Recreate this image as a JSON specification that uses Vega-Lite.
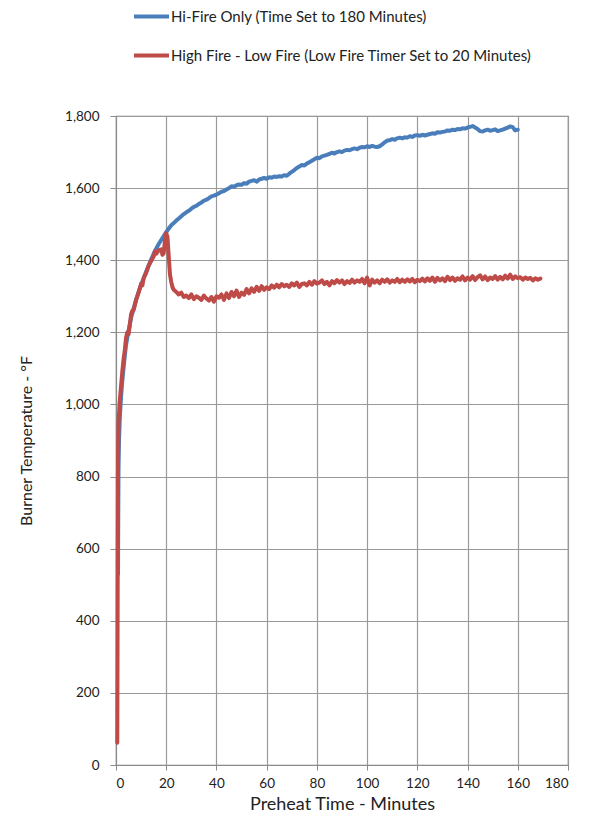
{
  "$schema": "https://vega.github.io/schema/vega-lite/v6.json",
  "autosize": {"type": "none"},
  "padding": {"left": 116, "top": 116, "right": 24, "bottom": 57},
  "width": 452,
  "height": 649,
  "background": "white",
  "config": {
    "font": "Lato",
    "view": {"stroke": "#7f7f7f", "strokeWidth": 1.2}
  },
  "datasets": {
    "pts": [
      {"s":"hi","t":0.8,"y":530},{"s":"hi","t":0.9,"y":700},{"s":"hi","t":1.0,"y":820},{"s":"hi","t":1.2,"y":900},{"s":"hi","t":1.5,"y":960},{"s":"hi","t":2,"y":1020},{"s":"hi","t":2.5,"y":1065},{"s":"hi","t":3,"y":1100},{"s":"hi","t":3.5,"y":1135},{"s":"hi","t":4,"y":1165},{"s":"hi","t":5,"y":1205},{"s":"hi","t":6,"y":1240},{"s":"hi","t":7,"y":1265},{"s":"hi","t":8,"y":1290},{"s":"hi","t":9,"y":1312},{"s":"hi","t":10,"y":1332},{"s":"hi","t":11,"y":1350},{"s":"hi","t":12,"y":1368},{"s":"hi","t":13,"y":1385},{"s":"hi","t":14,"y":1402},{"s":"hi","t":15,"y":1418},{"s":"hi","t":16,"y":1432},{"s":"hi","t":17,"y":1445},{"s":"hi","t":18,"y":1456},{"s":"hi","t":19,"y":1467},{"s":"hi","t":20,"y":1478},{"s":"hi","t":21,"y":1488},{"s":"hi","t":22,"y":1497},{"s":"hi","t":23,"y":1503},{"s":"hi","t":24,"y":1510},{"s":"hi","t":25,"y":1516},{"s":"hi","t":26,"y":1522},{"s":"hi","t":27,"y":1528},{"s":"hi","t":28,"y":1533},{"s":"hi","t":29,"y":1537},{"s":"hi","t":30,"y":1543},{"s":"hi","t":31,"y":1548},{"s":"hi","t":32,"y":1551},{"s":"hi","t":33,"y":1556},{"s":"hi","t":34,"y":1560},{"s":"hi","t":35,"y":1565},{"s":"hi","t":36,"y":1568},{"s":"hi","t":37,"y":1572},{"s":"hi","t":38,"y":1577},{"s":"hi","t":39,"y":1579},{"s":"hi","t":40,"y":1582},{"s":"hi","t":41,"y":1586},{"s":"hi","t":42,"y":1590},{"s":"hi","t":43,"y":1592},{"s":"hi","t":44,"y":1596},{"s":"hi","t":45,"y":1600},{"s":"hi","t":46,"y":1605},{"s":"hi","t":47,"y":1604},{"s":"hi","t":48,"y":1608},{"s":"hi","t":49,"y":1610},{"s":"hi","t":50,"y":1609},{"s":"hi","t":51,"y":1614},{"s":"hi","t":52,"y":1612},{"s":"hi","t":53,"y":1618},{"s":"hi","t":54,"y":1620},{"s":"hi","t":55,"y":1622},{"s":"hi","t":56,"y":1618},{"s":"hi","t":57,"y":1624},{"s":"hi","t":58,"y":1626},{"s":"hi","t":59,"y":1628},{"s":"hi","t":60,"y":1626},{"s":"hi","t":61,"y":1630},{"s":"hi","t":62,"y":1629},{"s":"hi","t":63,"y":1632},{"s":"hi","t":64,"y":1631},{"s":"hi","t":65,"y":1633},{"s":"hi","t":66,"y":1632},{"s":"hi","t":67,"y":1636},{"s":"hi","t":68,"y":1634},{"s":"hi","t":69,"y":1640},{"s":"hi","t":70,"y":1645},{"s":"hi","t":71,"y":1650},{"s":"hi","t":72,"y":1656},{"s":"hi","t":73,"y":1660},{"s":"hi","t":74,"y":1664},{"s":"hi","t":75,"y":1663},{"s":"hi","t":76,"y":1668},{"s":"hi","t":77,"y":1672},{"s":"hi","t":78,"y":1676},{"s":"hi","t":79,"y":1680},{"s":"hi","t":80,"y":1684},{"s":"hi","t":81,"y":1683},{"s":"hi","t":82,"y":1688},{"s":"hi","t":83,"y":1690},{"s":"hi","t":84,"y":1692},{"s":"hi","t":85,"y":1695},{"s":"hi","t":86,"y":1698},{"s":"hi","t":87,"y":1696},{"s":"hi","t":88,"y":1700},{"s":"hi","t":89,"y":1702},{"s":"hi","t":90,"y":1700},{"s":"hi","t":91,"y":1704},{"s":"hi","t":92,"y":1706},{"s":"hi","t":93,"y":1705},{"s":"hi","t":94,"y":1708},{"s":"hi","t":95,"y":1710},{"s":"hi","t":96,"y":1708},{"s":"hi","t":97,"y":1712},{"s":"hi","t":98,"y":1714},{"s":"hi","t":99,"y":1713},{"s":"hi","t":100,"y":1716},{"s":"hi","t":101,"y":1714},{"s":"hi","t":102,"y":1717},{"s":"hi","t":103,"y":1715},{"s":"hi","t":104,"y":1714},{"s":"hi","t":105,"y":1716},{"s":"hi","t":106,"y":1721},{"s":"hi","t":107,"y":1727},{"s":"hi","t":108,"y":1732},{"s":"hi","t":109,"y":1733},{"s":"hi","t":110,"y":1736},{"s":"hi","t":111,"y":1734},{"s":"hi","t":112,"y":1738},{"s":"hi","t":113,"y":1740},{"s":"hi","t":114,"y":1738},{"s":"hi","t":115,"y":1741},{"s":"hi","t":116,"y":1740},{"s":"hi","t":117,"y":1744},{"s":"hi","t":118,"y":1742},{"s":"hi","t":119,"y":1746},{"s":"hi","t":120,"y":1747},{"s":"hi","t":121,"y":1745},{"s":"hi","t":122,"y":1748},{"s":"hi","t":123,"y":1746},{"s":"hi","t":124,"y":1748},{"s":"hi","t":125,"y":1750},{"s":"hi","t":126,"y":1752},{"s":"hi","t":127,"y":1751},{"s":"hi","t":128,"y":1755},{"s":"hi","t":129,"y":1754},{"s":"hi","t":130,"y":1756},{"s":"hi","t":131,"y":1757},{"s":"hi","t":132,"y":1760},{"s":"hi","t":133,"y":1759},{"s":"hi","t":134,"y":1762},{"s":"hi","t":135,"y":1761},{"s":"hi","t":136,"y":1764},{"s":"hi","t":137,"y":1763},{"s":"hi","t":138,"y":1766},{"s":"hi","t":139,"y":1765},{"s":"hi","t":140,"y":1768},{"s":"hi","t":141,"y":1770},{"s":"hi","t":142,"y":1772},{"s":"hi","t":143,"y":1768},{"s":"hi","t":144,"y":1764},{"s":"hi","t":145,"y":1758},{"s":"hi","t":146,"y":1757},{"s":"hi","t":147,"y":1760},{"s":"hi","t":148,"y":1762},{"s":"hi","t":149,"y":1759},{"s":"hi","t":150,"y":1761},{"s":"hi","t":151,"y":1763},{"s":"hi","t":152,"y":1758},{"s":"hi","t":153,"y":1760},{"s":"hi","t":154,"y":1762},{"s":"hi","t":155,"y":1765},{"s":"hi","t":156,"y":1768},{"s":"hi","t":157,"y":1771},{"s":"hi","t":158,"y":1769},{"s":"hi","t":159,"y":1760},{"s":"hi","t":160,"y":1762},
      {"s":"lo","t":0.5,"y":62},{"s":"lo","t":0.6,"y":300},{"s":"lo","t":0.7,"y":600},{"s":"lo","t":0.8,"y":850},{"s":"lo","t":1.0,"y":950},{"s":"lo","t":1.5,"y":1010},{"s":"lo","t":2,"y":1050},{"s":"lo","t":2.5,"y":1090},{"s":"lo","t":3,"y":1125},{"s":"lo","t":3.5,"y":1150},{"s":"lo","t":4,"y":1185},{"s":"lo","t":4.5,"y":1200},{"s":"lo","t":5,"y":1195},{"s":"lo","t":5.5,"y":1220},{"s":"lo","t":6,"y":1250},{"s":"lo","t":6.5,"y":1260},{"s":"lo","t":7,"y":1262},{"s":"lo","t":7.5,"y":1275},{"s":"lo","t":8,"y":1290},{"s":"lo","t":9,"y":1310},{"s":"lo","t":10,"y":1335},{"s":"lo","t":10.5,"y":1330},{"s":"lo","t":11,"y":1350},{"s":"lo","t":12,"y":1365},{"s":"lo","t":13,"y":1385},{"s":"lo","t":14,"y":1398},{"s":"lo","t":15,"y":1410},{"s":"lo","t":15.5,"y":1425},{"s":"lo","t":16,"y":1418},{"s":"lo","t":17,"y":1428},{"s":"lo","t":18,"y":1430},{"s":"lo","t":18.5,"y":1415},{"s":"lo","t":19,"y":1420},{"s":"lo","t":19.5,"y":1455},{"s":"lo","t":20,"y":1475},{"s":"lo","t":20.5,"y":1465},{"s":"lo","t":21,"y":1410},{"s":"lo","t":21.5,"y":1360},{"s":"lo","t":22,"y":1340},{"s":"lo","t":22.5,"y":1325},{"s":"lo","t":23,"y":1318},{"s":"lo","t":24,"y":1312},{"s":"lo","t":25,"y":1305},{"s":"lo","t":26,"y":1310},{"s":"lo","t":27,"y":1298},{"s":"lo","t":28,"y":1302},{"s":"lo","t":29,"y":1295},{"s":"lo","t":30,"y":1305},{"s":"lo","t":31,"y":1292},{"s":"lo","t":32,"y":1300},{"s":"lo","t":33,"y":1296},{"s":"lo","t":34,"y":1290},{"s":"lo","t":35,"y":1302},{"s":"lo","t":36,"y":1294},{"s":"lo","t":37,"y":1288},{"s":"lo","t":38,"y":1298},{"s":"lo","t":39,"y":1285},{"s":"lo","t":40,"y":1300},{"s":"lo","t":41,"y":1296},{"s":"lo","t":42,"y":1305},{"s":"lo","t":43,"y":1290},{"s":"lo","t":44,"y":1308},{"s":"lo","t":45,"y":1295},{"s":"lo","t":46,"y":1312},{"s":"lo","t":47,"y":1300},{"s":"lo","t":48,"y":1316},{"s":"lo","t":49,"y":1298},{"s":"lo","t":50,"y":1310},{"s":"lo","t":51,"y":1304},{"s":"lo","t":52,"y":1320},{"s":"lo","t":53,"y":1308},{"s":"lo","t":54,"y":1322},{"s":"lo","t":55,"y":1312},{"s":"lo","t":56,"y":1326},{"s":"lo","t":57,"y":1315},{"s":"lo","t":58,"y":1328},{"s":"lo","t":59,"y":1318},{"s":"lo","t":60,"y":1325},{"s":"lo","t":61,"y":1320},{"s":"lo","t":62,"y":1330},{"s":"lo","t":63,"y":1324},{"s":"lo","t":64,"y":1332},{"s":"lo","t":65,"y":1325},{"s":"lo","t":66,"y":1334},{"s":"lo","t":67,"y":1328},{"s":"lo","t":68,"y":1332},{"s":"lo","t":69,"y":1326},{"s":"lo","t":70,"y":1336},{"s":"lo","t":71,"y":1330},{"s":"lo","t":72,"y":1338},{"s":"lo","t":73,"y":1326},{"s":"lo","t":74,"y":1334},{"s":"lo","t":75,"y":1336},{"s":"lo","t":76,"y":1330},{"s":"lo","t":77,"y":1340},{"s":"lo","t":78,"y":1332},{"s":"lo","t":79,"y":1342},{"s":"lo","t":80,"y":1335},{"s":"lo","t":81,"y":1338},{"s":"lo","t":82,"y":1344},{"s":"lo","t":83,"y":1334},{"s":"lo","t":84,"y":1340},{"s":"lo","t":85,"y":1330},{"s":"lo","t":86,"y":1342},{"s":"lo","t":87,"y":1336},{"s":"lo","t":88,"y":1345},{"s":"lo","t":89,"y":1338},{"s":"lo","t":90,"y":1344},{"s":"lo","t":91,"y":1334},{"s":"lo","t":92,"y":1342},{"s":"lo","t":93,"y":1337},{"s":"lo","t":94,"y":1346},{"s":"lo","t":95,"y":1338},{"s":"lo","t":96,"y":1344},{"s":"lo","t":97,"y":1340},{"s":"lo","t":98,"y":1348},{"s":"lo","t":99,"y":1336},{"s":"lo","t":100,"y":1352},{"s":"lo","t":101,"y":1330},{"s":"lo","t":102,"y":1346},{"s":"lo","t":103,"y":1338},{"s":"lo","t":104,"y":1344},{"s":"lo","t":105,"y":1336},{"s":"lo","t":106,"y":1346},{"s":"lo","t":107,"y":1340},{"s":"lo","t":108,"y":1347},{"s":"lo","t":109,"y":1338},{"s":"lo","t":110,"y":1344},{"s":"lo","t":111,"y":1340},{"s":"lo","t":112,"y":1348},{"s":"lo","t":113,"y":1339},{"s":"lo","t":114,"y":1346},{"s":"lo","t":115,"y":1340},{"s":"lo","t":116,"y":1347},{"s":"lo","t":117,"y":1341},{"s":"lo","t":118,"y":1348},{"s":"lo","t":119,"y":1339},{"s":"lo","t":120,"y":1346},{"s":"lo","t":121,"y":1342},{"s":"lo","t":122,"y":1349},{"s":"lo","t":123,"y":1341},{"s":"lo","t":124,"y":1350},{"s":"lo","t":125,"y":1343},{"s":"lo","t":126,"y":1352},{"s":"lo","t":127,"y":1340},{"s":"lo","t":128,"y":1351},{"s":"lo","t":129,"y":1344},{"s":"lo","t":130,"y":1350},{"s":"lo","t":131,"y":1342},{"s":"lo","t":132,"y":1354},{"s":"lo","t":133,"y":1345},{"s":"lo","t":134,"y":1352},{"s":"lo","t":135,"y":1343},{"s":"lo","t":136,"y":1350},{"s":"lo","t":137,"y":1346},{"s":"lo","t":138,"y":1355},{"s":"lo","t":139,"y":1344},{"s":"lo","t":140,"y":1352},{"s":"lo","t":141,"y":1346},{"s":"lo","t":142,"y":1356},{"s":"lo","t":143,"y":1345},{"s":"lo","t":144,"y":1353},{"s":"lo","t":145,"y":1358},{"s":"lo","t":146,"y":1347},{"s":"lo","t":147,"y":1355},{"s":"lo","t":148,"y":1345},{"s":"lo","t":149,"y":1352},{"s":"lo","t":150,"y":1348},{"s":"lo","t":151,"y":1356},{"s":"lo","t":152,"y":1346},{"s":"lo","t":153,"y":1354},{"s":"lo","t":154,"y":1347},{"s":"lo","t":155,"y":1357},{"s":"lo","t":156,"y":1349},{"s":"lo","t":157,"y":1360},{"s":"lo","t":158,"y":1348},{"s":"lo","t":159,"y":1355},{"s":"lo","t":160,"y":1350},{"s":"lo","t":161,"y":1353},{"s":"lo","t":162,"y":1346},{"s":"lo","t":163,"y":1352},{"s":"lo","t":164,"y":1348},{"s":"lo","t":165,"y":1351},{"s":"lo","t":166,"y":1344},{"s":"lo","t":167,"y":1350},{"s":"lo","t":168,"y":1346},{"s":"lo","t":169,"y":1349}
    ]
  },
  "data": {"name": "pts"},
  "mark": {"type": "line", "strokeWidth": 4, "strokeJoin": "round", "strokeCap": "round"},
  "encoding": {
    "x": {
      "field": "t", "type": "quantitative",
      "scale": {"domain": [0, 180], "nice": false, "zero": true},
      "axis": {
        "title": "Preheat Time - Minutes",
        "values": [0, 20, 40, 60, 80, 100, 120, 140, 160, 180],
        "grid": true, "gridColor": "#9a9a9a", "gridWidth": 1.2,
        "domainColor": "#8a8a8a", "tickColor": "#8a8a8a", "tickSize": 5,
        "labelFontSize": 13.5, "labelColor": "#222", "labelPadding": 6,
        "titleFontSize": 18, "titleFontWeight": "normal", "titleColor": "#222", "titlePadding": 6
      }
    },
    "y": {
      "field": "y", "type": "quantitative",
      "scale": {"domain": [0, 1800], "nice": false},
      "axis": {
        "title": "Burner Temperature - °F",
        "values": [0, 200, 400, 600, 800, 1000, 1200, 1400, 1600, 1800],
        "format": ",d",
        "grid": true, "gridColor": "#9a9a9a", "gridWidth": 1.2,
        "domainColor": "#8a8a8a", "tickColor": "#8a8a8a", "tickSize": 6,
        "labelFontSize": 13.5, "labelColor": "#222", "labelPadding": 11,
        "titleFontSize": 16, "titleFontWeight": "normal", "titleColor": "#222", "titlePadding": 30
      }
    },
    "color": {
      "field": "s", "type": "nominal",
      "scale": {"domain": ["hi", "lo"], "range": ["#4a7ebb", "#be4b48"]},
      "legend": {
        "title": null,
        "orient": "none",
        "legendX": 16,
        "legendY": -119,
        "direction": "vertical",
        "symbolType": "stroke",
        "symbolSize": 1225,
        "symbolStrokeWidth": 4,
        "labelOffset": 0,
        "rowPadding": 11,
        "labelFontSize": 15,
        "labelColor": "#222",
        "labelLimit": 500,
        "labelExpr": "datum.value == 'hi' ? 'Hi-Fire Only (Time Set to 180 Minutes)' : 'High Fire - Low Fire (Low Fire Timer Set to 20 Minutes)'"
      }
    }
  }
}
